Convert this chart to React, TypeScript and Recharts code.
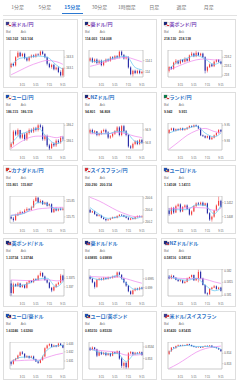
import React from "react";
import { Bar, ComposedChart, Line, ReferenceArea, XAxis, YAxis } from "recharts";

const TABS = ["1分足", "5分足", "15分足", "30分足", "1時間足", "日足", "週足", "月足"];
const ACTIVE_TAB = "15分足";
const TIME_LABELS = ["3:15", "5:15", "7:15", "9:15"];
const TIME_TICK_IDX = [5, 11, 17, 23];
// moving averages are sampled at these candle indices
const MA_IDX = [0, 4, 8, 12, 16, 20, 23];

// 米ドル/円
const usdJpyClose = [163.12, 163.18, 163.15, 163.3, 163.38, 163.32, 163.36, 163.28, 163.24, 163.3, 163.33, 163.31, 163.35, 163.34, 163.4, 163.36, 163.3, 163.18, 163.12, 163.16, 163.08, 163.11, 163.03, 162.97, 163.1];
const usdJpyHigh = [163.2, 163.2, 163.32, 163.41, 163.4, 163.38, 163.38, 163.3, 163.32, 163.35, 163.35, 163.37, 163.37, 163.42, 163.42, 163.37, 163.31, 163.2, 163.18, 163.18, 163.13, 163.13, 163.06, 163.11];
const usdJpyLow = [163.1, 163.13, 163.13, 163.28, 163.3, 163.3, 163.26, 163.22, 163.22, 163.28, 163.29, 163.29, 163.32, 163.32, 163.34, 163.28, 163.15, 163.1, 163.09, 163.06, 163.06, 163.01, 162.95, 162.95];
const usdJpySlow = [162.98, 163.06, 163.14, 163.2, 163.24, 163.22, 163.17];
const usdJpyFast = [163.14, 163.28, 163.3, 163.32, 163.3, 163.16, 163.08];

// 豪ドル/円
const audJpyClose = [114.1, 114.12, 114.09, 114.11, 114.08, 114.1, 114.06, 114.09, 114.11, 114.1, 114.13, 114.12, 114.14, 114.13, 114.18, 114.15, 114.12, 114.13, 114.04, 113.98, 114.01, 113.99, 114.01, 113.99, 114.0];
const audJpyHigh = [114.13, 114.13, 114.12, 114.12, 114.11, 114.11, 114.1, 114.12, 114.12, 114.14, 114.14, 114.15, 114.15, 114.19, 114.19, 114.16, 114.14, 114.14, 114.05, 114.02, 114.02, 114.02, 114.02, 114.01];
const audJpyLow = [114.09, 114.08, 114.08, 114.07, 114.07, 114.05, 114.05, 114.08, 114.09, 114.09, 114.11, 114.11, 114.12, 114.12, 114.14, 114.11, 114.11, 114.03, 113.97, 113.96, 113.98, 113.98, 113.98, 113.98];
const audJpySlow = [114.05, 114.07, 114.1, 114.12, 114.13, 114.11, 114.09];
const audJpyFast = [114.1, 114.09, 114.11, 114.13, 114.14, 114.04, 114.02];

// 英ポンド/円
const gbpJpyClose = [218.05, 218.09, 218.07, 218.14, 218.16, 218.13, 218.17, 218.15, 218.18, 218.16, 218.22, 218.24, 218.21, 218.25, 218.22, 218.24, 218.2, 218.05, 218.09, 218.12, 218.1, 218.15, 218.17, 218.15, 218.13];
const gbpJpyHigh = [218.1, 218.1, 218.15, 218.18, 218.17, 218.18, 218.18, 218.2, 218.19, 218.23, 218.26, 218.25, 218.27, 218.26, 218.25, 218.25, 218.21, 218.1, 218.13, 218.13, 218.16, 218.18, 218.18, 218.16];
const gbpJpyLow = [218.03, 218.06, 218.06, 218.12, 218.12, 218.12, 218.14, 218.14, 218.15, 218.15, 218.21, 218.2, 218.2, 218.21, 218.21, 218.19, 218.02, 218.03, 218.08, 218.09, 218.09, 218.14, 218.14, 218.12];
const gbpJpySlow = [218.06, 218.1, 218.14, 218.17, 218.18, 218.17, 218.17];
const gbpJpyFast = [218.07, 218.15, 218.19, 218.22, 218.18, 218.12, 218.15];

// ユーロ/円
const eurJpyClose = [186.06, 186.08, 186.16, 186.14, 186.17, 186.12, 186.14, 186.11, 186.15, 186.17, 186.16, 186.18, 186.17, 186.2, 186.19, 186.11, 186.13, 186.07, 186.05, 186.08, 186.07, 186.1, 186.09, 186.12, 186.115];
const eurJpyHigh = [186.09, 186.17, 186.17, 186.18, 186.17, 186.15, 186.15, 186.16, 186.18, 186.18, 186.19, 186.19, 186.21, 186.21, 186.2, 186.14, 186.14, 186.08, 186.09, 186.09, 186.11, 186.11, 186.13, 186.13];
const eurJpyLow = [186.05, 186.07, 186.13, 186.13, 186.11, 186.11, 186.1, 186.1, 186.14, 186.15, 186.15, 186.16, 186.16, 186.18, 186.1, 186.1, 186.06, 186.04, 186.05, 186.06, 186.06, 186.08, 186.08, 186.1];
const eurJpySlow = [186.05, 186.09, 186.12, 186.13, 186.13, 186.12, 186.13];
const eurJpyFast = [186.08, 186.14, 186.16, 186.18, 186.12, 186.08, 186.1];

// NZドル/円
const nzdJpyClose = [94.88, 94.9, 94.88, 94.89, 94.86, 94.87, 94.89, 94.9, 94.88, 94.84, 94.85, 94.87, 94.89, 94.92, 94.86, 94.93, 94.89, 94.86, 94.77, 94.76, 94.79, 94.81, 94.79, 94.82, 94.8];
const nzdJpyHigh = [94.91, 94.91, 94.9, 94.89, 94.88, 94.9, 94.91, 94.91, 94.89, 94.86, 94.88, 94.9, 94.93, 94.93, 94.94, 94.94, 94.9, 94.87, 94.78, 94.8, 94.82, 94.82, 94.83, 94.83];
const nzdJpyLow = [94.87, 94.87, 94.87, 94.85, 94.85, 94.86, 94.88, 94.87, 94.83, 94.83, 94.84, 94.86, 94.88, 94.85, 94.85, 94.88, 94.85, 94.76, 94.75, 94.75, 94.78, 94.78, 94.78, 94.79];
const nzdJpySlow = [94.87, 94.87, 94.87, 94.88, 94.87, 94.85, 94.84];
const nzdJpyFast = [94.89, 94.87, 94.87, 94.89, 94.88, 94.81, 94.8];

// ランド/円
const zarJpyClose = [9.94, 9.944, 9.946, 9.943, 9.945, 9.944, 9.946, 9.944, 9.945, 9.947, 9.949, 9.948, 9.95, 9.949, 9.946, 9.937, 9.936, 9.934, 9.936, 9.932, 9.934, 9.937, 9.94, 9.944, 9.942];
const zarJpyHigh = [9.945, 9.947, 9.947, 9.946, 9.946, 9.947, 9.947, 9.946, 9.948, 9.95, 9.95, 9.951, 9.951, 9.95, 9.947, 9.938, 9.937, 9.937, 9.937, 9.935, 9.938, 9.941, 9.945, 9.945];
const zarJpyLow = [9.939, 9.943, 9.942, 9.942, 9.943, 9.943, 9.943, 9.943, 9.944, 9.946, 9.947, 9.947, 9.948, 9.945, 9.936, 9.935, 9.933, 9.933, 9.931, 9.931, 9.933, 9.936, 9.939, 9.941];
const zarJpySlow = [9.919, 9.928, 9.937, 9.943, 9.946, 9.942, 9.94];
const zarJpyFast = [9.94, 9.944, 9.946, 9.949, 9.94, 9.935, 9.94];

// カナダドル/円
const cadJpyClose = [115.75, 115.74, 115.73, 115.76, 115.77, 115.78, 115.775, 115.79, 115.8, 115.795, 115.81, 115.85, 115.87, 115.84, 115.85, 115.83, 115.84, 115.82, 115.83, 115.78, 115.8, 115.79, 115.8, 115.795, 115.801];
const cadJpyHigh = [115.76, 115.75, 115.77, 115.78, 115.79, 115.785, 115.8, 115.81, 115.805, 115.82, 115.86, 115.88, 115.875, 115.86, 115.855, 115.845, 115.845, 115.835, 115.835, 115.805, 115.81, 115.805, 115.81, 115.81];
const cadJpyLow = [115.735, 115.72, 115.725, 115.755, 115.765, 115.77, 115.77, 115.785, 115.79, 115.79, 115.805, 115.845, 115.835, 115.835, 115.825, 115.825, 115.815, 115.815, 115.775, 115.775, 115.785, 115.785, 115.79, 115.79];
const cadJpySlow = [115.76, 115.77, 115.785, 115.8, 115.805, 115.81, 115.81];
const cadJpyFast = [115.76, 115.765, 115.79, 115.84, 115.83, 115.8, 115.8];

// スイスフラン/円
const chfJpyClose = [200.4, 200.36, 200.38, 200.33, 200.3, 200.31, 200.27, 200.25, 200.23, 200.24, 200.26, 200.28, 200.27, 200.3, 200.32, 200.31, 200.29, 200.27, 200.24, 200.26, 200.25, 200.28, 200.3, 200.29, 200.29];
const chfJpyHigh = [200.42, 200.39, 200.39, 200.34, 200.33, 200.32, 200.28, 200.26, 200.25, 200.27, 200.29, 200.29, 200.31, 200.33, 200.33, 200.32, 200.3, 200.28, 200.27, 200.27, 200.29, 200.31, 200.31, 200.31];
const chfJpyLow = [200.35, 200.35, 200.32, 200.29, 200.29, 200.26, 200.24, 200.21, 200.22, 200.23, 200.25, 200.26, 200.26, 200.29, 200.3, 200.28, 200.26, 200.23, 200.23, 200.24, 200.24, 200.27, 200.28, 200.27];
const chfJpySlow = [200.61, 200.55, 200.47, 200.39, 200.33, 200.29, 200.29];
const chfJpyFast = [200.44, 200.33, 200.26, 200.28, 200.3, 200.26, 200.29];

// ユーロ/ドル
const eurUsdClose = [1.14098, 1.14088, 1.14105, 1.14092, 1.1411, 1.14115, 1.14095, 1.14108, 1.14112, 1.14102, 1.14086, 1.14095, 1.1411, 1.14118, 1.14115, 1.1412, 1.14112, 1.14118, 1.1409, 1.14072, 1.1408, 1.14098, 1.14112, 1.14125, 1.14108];
const eurUsdHigh = [1.14105, 1.14108, 1.14108, 1.14114, 1.14118, 1.14118, 1.1411, 1.14115, 1.14115, 1.14104, 1.14098, 1.14112, 1.14121, 1.14122, 1.14123, 1.14123, 1.1412, 1.1412, 1.14093, 1.14083, 1.141, 1.14115, 1.14137, 1.14128];
const eurUsdLow = [1.14083, 1.14085, 1.14088, 1.1409, 1.14107, 1.14092, 1.14093, 1.14105, 1.141, 1.14083, 1.14083, 1.14093, 1.14108, 1.14112, 1.14112, 1.1411, 1.1411, 1.14087, 1.14068, 1.14066, 1.14077, 1.14095, 1.1411, 1.14105];
const eurUsdSlow = [1.14102, 1.14104, 1.14105, 1.14106, 1.14105, 1.14098, 1.14104];
const eurUsdFast = [1.14098, 1.141, 1.141, 1.14114, 1.14112, 1.14088, 1.14112];

// 英ポンド/ドル
const gbpUsdClose = [1.3372, 1.33665, 1.33715, 1.33705, 1.3372, 1.337, 1.3371, 1.33695, 1.33725, 1.33735, 1.33728, 1.33745, 1.3374, 1.33765, 1.3378, 1.3376, 1.3374, 1.33725, 1.33695, 1.3368, 1.337, 1.33715, 1.33725, 1.33765, 1.33738];
const gbpUsdHigh = [1.3374, 1.33725, 1.3372, 1.33728, 1.33724, 1.33715, 1.33715, 1.3373, 1.3374, 1.3374, 1.3375, 1.3375, 1.3377, 1.3379, 1.33785, 1.33765, 1.33745, 1.3373, 1.337, 1.33705, 1.3372, 1.3373, 1.33775, 1.3377];
const gbpUsdLow = [1.3365, 1.3366, 1.337, 1.337, 1.33695, 1.33695, 1.3369, 1.3369, 1.3372, 1.33722, 1.33722, 1.33735, 1.33735, 1.3376, 1.33755, 1.33735, 1.3372, 1.3369, 1.3367, 1.33675, 1.33695, 1.3371, 1.3372, 1.3373];
const gbpUsdSlow = [1.3374, 1.33738, 1.33736, 1.33738, 1.33742, 1.33735, 1.33736];
const gbpUsdFast = [1.33705, 1.33708, 1.3372, 1.33745, 1.3375, 1.337, 1.3373];

// 豪ドル/ドル
const audUsdClose = [0.6996, 0.6995, 0.6993, 0.69905, 0.69945, 0.6995, 0.69945, 0.69955, 0.69948, 0.69958, 0.69955, 0.69962, 0.6996, 0.69985, 0.69972, 0.6995, 0.6993, 0.69912, 0.6988, 0.69865, 0.69885, 0.69895, 0.6989, 0.699, 0.69895];
const audUsdHigh = [0.69968, 0.69955, 0.69935, 0.6995, 0.69955, 0.69955, 0.6996, 0.69958, 0.69962, 0.6996, 0.69968, 0.69966, 0.6999, 0.6999, 0.69975, 0.69955, 0.69935, 0.69915, 0.69885, 0.6989, 0.699, 0.699, 0.69905, 0.69905];
const audUsdLow = [0.69945, 0.69925, 0.69895, 0.699, 0.6994, 0.6994, 0.6994, 0.69945, 0.69945, 0.6995, 0.6995, 0.69955, 0.69955, 0.69968, 0.69945, 0.69925, 0.69905, 0.69875, 0.6986, 0.6986, 0.6988, 0.69885, 0.69885, 0.6989];
const audUsdSlow = [0.69962, 0.6996, 0.69958, 0.6996, 0.6995, 0.69935, 0.69925];
const audUsdFast = [0.6996, 0.69945, 0.69952, 0.69968, 0.69925, 0.6989, 0.69897];

// NZドル/ドル
const nzdUsdClose = [0.58172, 0.58165, 0.58175, 0.58168, 0.5816, 0.58155, 0.58158, 0.58148, 0.58152, 0.58165, 0.5817, 0.58178, 0.58158, 0.58165, 0.5819, 0.58165, 0.5814, 0.58108, 0.58105, 0.58125, 0.5813, 0.58135, 0.58125, 0.5813, 0.58118];
const nzdUsdHigh = [0.58178, 0.5818, 0.58178, 0.5817, 0.58162, 0.58162, 0.5816, 0.58155, 0.58168, 0.58172, 0.5818, 0.5818, 0.58168, 0.58198, 0.58195, 0.58168, 0.58142, 0.58112, 0.58128, 0.58133, 0.5814, 0.58138, 0.58133, 0.58133];
const nzdUsdLow = [0.58162, 0.58162, 0.58165, 0.58158, 0.58152, 0.58152, 0.58145, 0.58145, 0.5815, 0.58162, 0.58168, 0.58155, 0.58155, 0.5815, 0.58162, 0.58138, 0.58105, 0.581, 0.58102, 0.58122, 0.58128, 0.58122, 0.58122, 0.58115];
const nzdUsdSlow = [0.58168, 0.58166, 0.58164, 0.58165, 0.58162, 0.58152, 0.58146];
const nzdUsdFast = [0.58172, 0.58162, 0.58158, 0.58165, 0.5814, 0.58118, 0.58124];

// ユーロ/豪ドル
const eurAudClose = [1.6309, 1.6307, 1.6311, 1.63125, 1.6316, 1.63195, 1.6318, 1.6314, 1.63155, 1.63135, 1.6315, 1.6312, 1.63095, 1.6308, 1.6311, 1.6315, 1.6324, 1.6327, 1.63285, 1.63255, 1.6327, 1.6326, 1.6329, 1.63275, 1.63246];
const eurAudHigh = [1.631, 1.6312, 1.63135, 1.6317, 1.63205, 1.6321, 1.63185, 1.63165, 1.6316, 1.6316, 1.6316, 1.63125, 1.631, 1.63115, 1.6316, 1.6325, 1.6328, 1.63295, 1.6329, 1.6328, 1.63275, 1.633, 1.63298, 1.6328];
const eurAudLow = [1.6305, 1.6306, 1.631, 1.6312, 1.63155, 1.6317, 1.6313, 1.63135, 1.63125, 1.6313, 1.63115, 1.6309, 1.6307, 1.63075, 1.63105, 1.6314, 1.6323, 1.6326, 1.6325, 1.6325, 1.6325, 1.63255, 1.63268, 1.6324];
const eurAudSlow = [1.631, 1.63105, 1.6311, 1.6311, 1.6314, 1.6317, 1.63185];
const eurAudFast = [1.6309, 1.6314, 1.63145, 1.631, 1.6322, 1.63265, 1.6327];

// ユーロ/英ポンド
const eurGbpClose = [0.85335, 0.8533, 0.85338, 0.85332, 0.8531, 0.85322, 0.85315, 0.8532, 0.85312, 0.85318, 0.8531, 0.85322, 0.85318, 0.85325, 0.853, 0.85275, 0.85285, 0.8527, 0.85318, 0.85322, 0.85315, 0.8532, 0.85318, 0.85322, 0.85312];
const eurGbpHigh = [0.8534, 0.85342, 0.8534, 0.85334, 0.85325, 0.85325, 0.85323, 0.85322, 0.8532, 0.8532, 0.85325, 0.85324, 0.85328, 0.85327, 0.85305, 0.8529, 0.85288, 0.85322, 0.85326, 0.85324, 0.85323, 0.85322, 0.85325, 0.85324];
const eurGbpLow = [0.85326, 0.85328, 0.85328, 0.85305, 0.85308, 0.85312, 0.85312, 0.85308, 0.8531, 0.85306, 0.85308, 0.85315, 0.85315, 0.85296, 0.85268, 0.85266, 0.85265, 0.85266, 0.85315, 0.85312, 0.85312, 0.85315, 0.85316, 0.8531];
const eurGbpSlow = [0.85332, 0.85328, 0.85325, 0.85322, 0.85312, 0.85312, 0.85314];
const eurGbpFast = [0.85334, 0.85322, 0.85316, 0.85318, 0.8529, 0.85316, 0.85317];

// 米ドル/スイスフラン
const usdChfClose = [0.81395, 0.8142, 0.81455, 0.8145, 0.8147, 0.81478, 0.81472, 0.8148, 0.81475, 0.81488, 0.8148, 0.8147, 0.81462, 0.81458, 0.81462, 0.81455, 0.81465, 0.81472, 0.81468, 0.81475, 0.8146, 0.81458, 0.8145, 0.81438, 0.8142];
const usdChfHigh = [0.81428, 0.8146, 0.81462, 0.81475, 0.81485, 0.81482, 0.81485, 0.81482, 0.81492, 0.81492, 0.81484, 0.81474, 0.81466, 0.81466, 0.81465, 0.81468, 0.81476, 0.81476, 0.8148, 0.81478, 0.81464, 0.8146, 0.81454, 0.8144];
const usdChfLow = [0.81385, 0.81415, 0.81445, 0.81445, 0.81466, 0.81468, 0.81468, 0.8147, 0.81472, 0.81476, 0.81466, 0.81458, 0.81454, 0.81455, 0.81452, 0.81452, 0.81462, 0.81464, 0.81465, 0.81456, 0.81455, 0.81446, 0.81434, 0.81416];
const usdChfSlow = [0.81255, 0.813, 0.81355, 0.8141, 0.81445, 0.81462, 0.8147];
const usdChfFast = [0.8141, 0.81465, 0.81476, 0.81466, 0.81466, 0.8146, 0.8144];

const PAIRS = [
  { name: "米ドル/円", flags: ["us", "jp"], bid: "163.102", ask: "163.104", close: usdJpyClose, high: usdJpyHigh, low: usdJpyLow, slow: usdJpySlow, fast: usdJpyFast, domain: [162.94, 163.43], ticks: [163.1, 163.3], visited: true },
  { name: "豪ドル/円", flags: ["au", "jp"], bid: "114.003", ask: "114.008", close: audJpyClose, high: audJpyHigh, low: audJpyLow, slow: audJpySlow, fast: audJpyFast, domain: [113.955, 114.195], ticks: [114, 114.1], visited: true },
  { name: "英ポンド/円", flags: ["gb", "jp"], bid: "218.130", ask: "218.138", close: gbpJpyClose, high: gbpJpyHigh, low: gbpJpyLow, slow: gbpJpySlow, fast: gbpJpyFast, domain: [217.98, 218.28], ticks: [218, 218.1, 218.2], visited: true },
  { name: "ユーロ/円", flags: ["eu", "jp"], bid: "186.115", ask: "186.119", close: eurJpyClose, high: eurJpyHigh, low: eurJpyLow, slow: eurJpySlow, fast: eurJpyFast, domain: [186.04, 186.215], ticks: [186.05, 186.1, 186.15, 186.2] },
  { name: "NZドル/円", flags: ["nz", "jp"], bid: "94.801", ask: "94.808", close: nzdJpyClose, high: nzdJpyHigh, low: nzdJpyLow, slow: nzdJpySlow, fast: nzdJpyFast, domain: [94.742, 94.955], ticks: [94.75, 94.8, 94.85, 94.9] },
  { name: "ランド/円", flags: ["za", "jp"], bid: "9.942", ask: "9.951", close: zarJpyClose, high: zarJpyHigh, low: zarJpyLow, slow: zarJpySlow, fast: zarJpyFast, domain: [9.918, 9.953], ticks: [9.92, 9.93, 9.94, 9.95] },
  { name: "カナダドル/円", flags: ["ca", "jp"], bid: "115.801", ask: "115.807", close: cadJpyClose, high: cadJpyHigh, low: cadJpyLow, slow: cadJpySlow, fast: cadJpyFast, domain: [115.712, 115.881], ticks: [115.75, 115.8, 115.85] },
  { name: "スイスフラン/円", flags: ["ch", "jp"], bid: "200.290", ask: "200.314", close: chfJpyClose, high: chfJpyHigh, low: chfJpyLow, slow: chfJpySlow, fast: chfJpyFast, domain: [200.183, 200.633], ticks: [200.2, 200.4, 200.6] },
  { name: "ユーロ/ドル", flags: ["eu", "us"], bid: "1.14108", ask: "1.14111", close: eurUsdClose, high: eurUsdHigh, low: eurUsdLow, slow: eurUsdSlow, fast: eurUsdFast, domain: [1.14062, 1.14139], ticks: [1.1408, 1.141, 1.1412] },
  { name: "英ポンド/ドル", flags: ["gb", "us"], bid: "1.33734", ask: "1.33744", close: gbpUsdClose, high: gbpUsdHigh, low: gbpUsdLow, slow: gbpUsdSlow, fast: gbpUsdFast, domain: [1.33648, 1.33803], ticks: [1.337, 1.3375] },
  { name: "豪ドル/ドル", flags: ["au", "us"], bid: "0.69895", ask: "0.69899", close: audUsdClose, high: audUsdHigh, low: audUsdLow, slow: audUsdSlow, fast: audUsdFast, domain: [0.69854, 0.70004], ticks: [0.699, 0.6995] },
  { name: "NZドル/ドル", flags: ["nz", "us"], bid: "0.58116", ask: "0.58132", close: nzdUsdClose, high: nzdUsdHigh, low: nzdUsdLow, slow: nzdUsdSlow, fast: nzdUsdFast, domain: [0.58098, 0.58201], ticks: [0.581, 0.5815, 0.582] },
  { name: "ユーロ/豪ドル", flags: ["eu", "au"], bid: "1.63246", ask: "1.63260", close: eurAudClose, high: eurAudHigh, low: eurAudLow, slow: eurAudSlow, fast: eurAudFast, domain: [1.63013, 1.63308], ticks: [1.631, 1.632, 1.633] },
  { name: "ユーロ/英ポンド", flags: ["eu", "gb"], bid: "0.85310", ask: "0.85320", close: eurGbpClose, high: eurGbpHigh, low: eurGbpLow, slow: eurGbpSlow, fast: eurGbpFast, domain: [0.85264, 0.85357], ticks: [0.8528, 0.853, 0.8532, 0.8534] },
  { name: "米ドル/スイスフラン", flags: ["us", "ch"], bid: "0.81420", ask: "0.81435", close: usdChfClose, high: usdChfHigh, low: usdChfLow, slow: usdChfSlow, fast: usdChfFast, domain: [0.81249, 0.81509], ticks: [0.813, 0.814] },
];

const FLAG_COLORS: Record<string, [string, string]> = {
  us: ["#3c3b8e", "#d23a3a"],
  jp: ["#ffffff", "#e0303a"],
  au: ["#1b2a7a", "#d03040"],
  gb: ["#1b2a7a", "#d8343c"],
  eu: ["#1f4fb0", "#f2c744"],
  nz: ["#1b2a7a", "#d03040"],
  za: ["#0a7d4b", "#d8343c"],
  ca: ["#d83a30", "#ffffff"],
  ch: ["#d8343c", "#ffffff"],
};

const UP = "#f03030";
const DOWN = "#1c1fa0";
const FONT = "'Noto Sans CJK JP', 'Noto Sans', sans-serif";
const NUM_FONT = "'Liberation Sans', Arial, sans-serif";

function Flag({ code, left, top }: { code: string; left: number; top: number }) {
  const [bg, accent] = FLAG_COLORS[code];
  return (
    <div style={{ position: "absolute", left, top, width: 3.4, height: 2.5, background: bg, boxShadow: "0 0 0 0.3px #aaa", overflow: "hidden" }}>
      <div style={{ position: "absolute", right: 0, bottom: 0, width: 1.6, height: 1.2, background: accent }} />
    </div>
  );
}

function Candle(props: any) {
  const { x, width, payload } = props;
  let { y, height } = props;
  if (height < 0) {
    y += height;
    height = -height;
  }
  const { o, c, h, l } = payload;
  const span = h - l || 1e-9;
  const yOf = (v: number) => y + ((h - v) / span) * height;
  const color = c >= o ? UP : DOWN;
  const top = yOf(Math.max(o, c));
  const bottom = yOf(Math.min(o, c));
  const cx = x + width / 2;
  return (
    <g>
      <line x1={cx} x2={cx} y1={y} y2={y + height} stroke={color} strokeWidth={0.5} />
      <rect x={x} y={top} width={width} height={Math.max(bottom - top, 0.5)} fill={color} />
    </g>
  );
}

function PairChart({ pair }: { pair: (typeof PAIRS)[number] }) {
  const rows = pair.high.map((h, i) => {
    const m = MA_IDX.indexOf(i);
    return {
      t: i,
      o: pair.close[i],
      c: pair.close[i + 1],
      h,
      l: pair.low[i],
      range: [pair.low[i], h],
      slow: m >= 0 ? pair.slow[m] : null,
      fast: m >= 0 ? pair.fast[m] : null,
    };
  });
  return (
    <ComposedChart width={74} height={36} data={rows} margin={{ top: 0, right: 0, bottom: 0, left: 6 }} barCategoryGap="28%">
      <XAxis
        dataKey="t"
        type="category"
        ticks={TIME_TICK_IDX}
        interval={0}
        tickFormatter={(v: number) => TIME_LABELS[TIME_TICK_IDX.indexOf(v)]}
        height={9}
        tick={{ fontSize: 2.6, fill: "#555", fontFamily: NUM_FONT }}
        tickLine={false}
        axisLine={false}
        tickMargin={1}
      />
      <YAxis
        orientation="right"
        type="number"
        domain={pair.domain}
        ticks={pair.ticks}
        allowDataOverflow
        width={14}
        tick={{ fontSize: 2.8, fill: "#555", fontFamily: NUM_FONT }}
        tickFormatter={(v: number) => String(v)}
        tickSize={1.5}
        tickMargin={0.8}
        axisLine={false}
        tickLine={{ stroke: "#999", strokeWidth: 0.4 }}
      />
      <ReferenceArea y1={pair.domain[0]} y2={pair.domain[1]} fill="#fff" fillOpacity={0} stroke="#a8a8a8" strokeWidth={0.6} />
      <Bar dataKey="range" isAnimationActive={false} shape={(p: any) => <Candle {...p} />} />
      <Line dataKey="slow" type="monotone" stroke="#ec84ec" strokeWidth={0.7} dot={false} connectNulls isAnimationActive={false} />
      <Line dataKey="fast" type="monotone" stroke="#5ec6f2" strokeWidth={0.7} dot={false} connectNulls isAnimationActive={false} />
    </ComposedChart>
  );
}

function Card({ pair, left, top }: { pair: (typeof PAIRS)[number]; left: number; top: number }) {
  return (
    <div style={{ position: "absolute", left, top, width: 75, height: 69, border: "0.6px solid #dedede", boxSizing: "border-box", background: "#fff" }}>
      <Flag code={pair.flags[1]} left={3.4} top={3.2} />
      <Flag code={pair.flags[0]} left={2} top={2.4} />
      <div style={{ position: "absolute", left: 7.6, top: 1.4, fontSize: 5, lineHeight: "5px", fontWeight: 700, whiteSpace: "nowrap", color: pair.visited ? "#7a48b8" : "#2a6fc4", fontFamily: FONT }}>
        {pair.name}
      </div>
      <div style={{ position: "absolute", left: 2, top: 11.4, fontSize: 3.2, lineHeight: "3.4px", color: "#777", fontFamily: NUM_FONT }}>Bid</div>
      <div style={{ position: "absolute", left: 16.7, top: 11.4, fontSize: 3.2, lineHeight: "3.4px", color: "#777", fontFamily: NUM_FONT }}>Ask</div>
      <div style={{ position: "absolute", left: 2, top: 18.3, fontSize: 3.4, lineHeight: "3.6px", fontWeight: 700, color: "#333", fontFamily: NUM_FONT }}>{pair.bid}</div>
      <div style={{ position: "absolute", left: 16.7, top: 18.3, fontSize: 3.4, lineHeight: "3.6px", fontWeight: 700, color: "#333", fontFamily: NUM_FONT }}>{pair.ask}</div>
      <div style={{ position: "absolute", left: 0, top: 30 }}>
        <PairChart pair={pair} />
      </div>
    </div>
  );
}

export default function App() {
  return (
    <div style={{ position: "absolute", left: 0, top: 0, width: 240, height: 380, background: "#fff", overflow: "hidden", fontFamily: FONT }}>
      <div style={{ position: "absolute", left: 4, top: 0, display: "flex" }}>
        {TABS.map((tab) => (
          <div key={tab} style={{ position: "relative", width: 27.3, height: 14, lineHeight: "14px", textAlign: "center", fontSize: 5, color: tab === ACTIVE_TAB ? "#2a78d2" : "#777", fontWeight: tab === ACTIVE_TAB ? 700 : 400 }}>
            {tab}
            {tab === ACTIVE_TAB && <div style={{ position: "absolute", left: 3, right: 3, bottom: 0, height: 1, background: "#2a78d2" }} />}
          </div>
        ))}
      </div>
      <div style={{ position: "absolute", left: 3, top: 14.5, width: 234, height: 0.6, background: "#e2e2e2" }} />
      {PAIRS.map((pair, i) => (
        <Card key={pair.name} pair={pair} left={3 + (i % 3) * 79} top={19 + Math.floor(i / 3) * 73} />
      ))}
    </div>
  );
}
